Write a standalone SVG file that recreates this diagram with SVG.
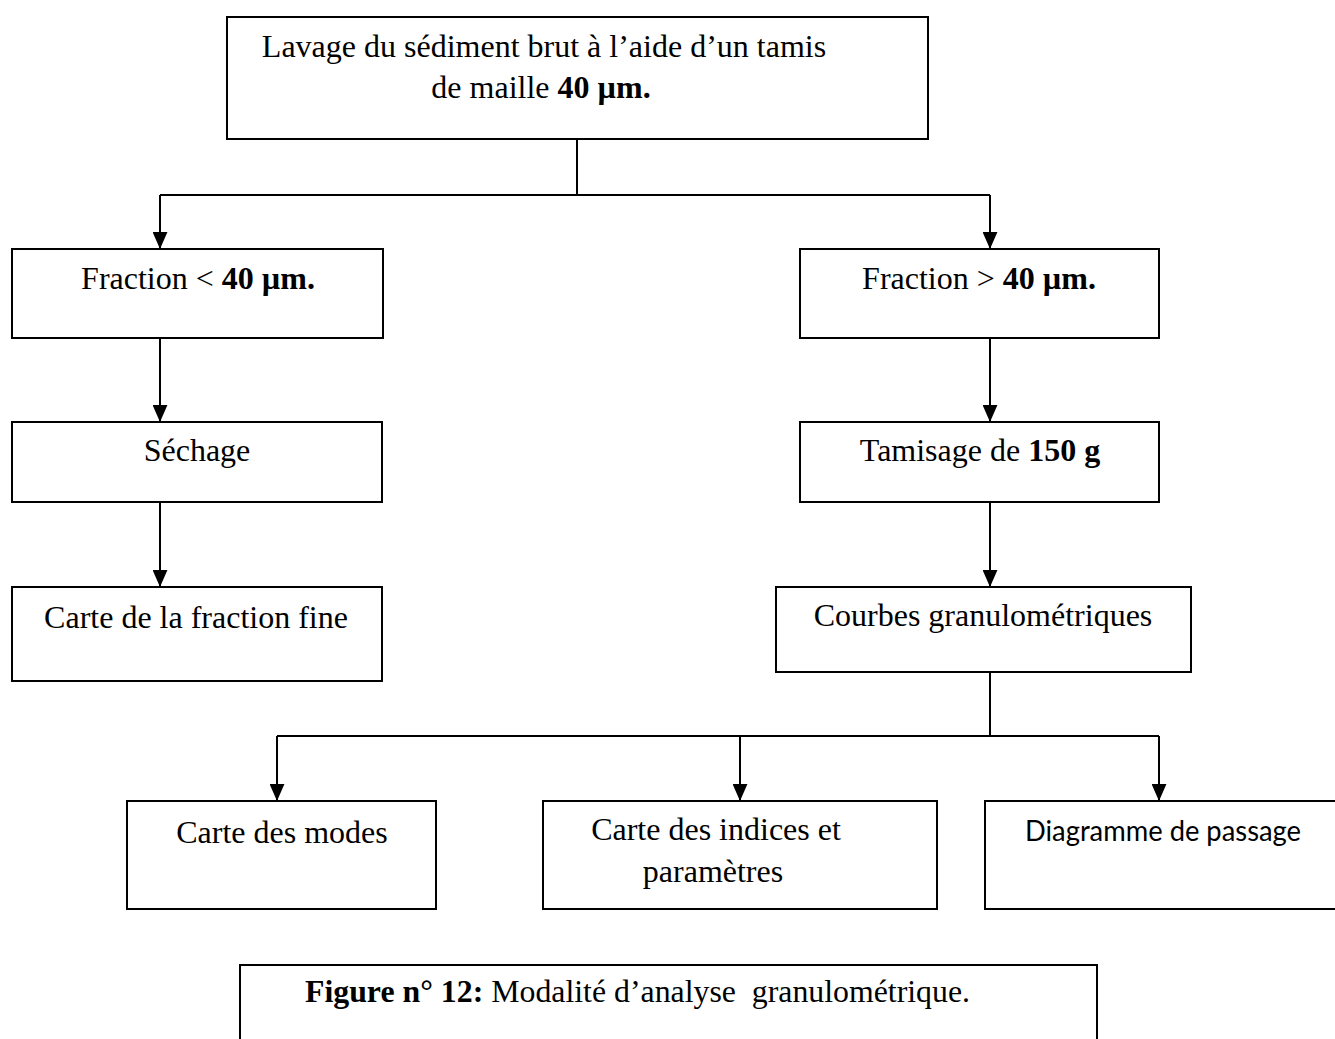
<svg xmlns="http://www.w3.org/2000/svg" width="1335" height="1039" viewBox="0 0 1335 1039">
<style>
.box{fill:#fff;stroke:#000;stroke-width:2}
.ln{fill:none;stroke:#000;stroke-width:2}
.t{font-family:"Liberation Serif","Times New Roman",serif;font-size:32px;fill:#000}
.c{font-family:Lato,"Open Sans","Liberation Sans",sans-serif;font-size:29px;fill:#000}
.b{font-weight:bold}
</style>
<defs>
<marker id="ah" viewBox="0 0 16 14" refX="16" refY="7" markerWidth="17" markerHeight="15" markerUnits="userSpaceOnUse" orient="auto">
<path d="M0,0 L16,7 L0,14 z" fill="#000"/>
</marker>
</defs>
<rect width="1335" height="1039" fill="#fff"/>
<g id="connectors">
<polyline class="ln" points="577,139 577,195"/>
<polyline class="ln" points="160,195 990,195"/>
<line class="ln" x1="160" y1="195" x2="160" y2="249" marker-end="url(#ah)"/>
<line class="ln" x1="990" y1="195" x2="990" y2="249" marker-end="url(#ah)"/>
<line class="ln" x1="160" y1="338" x2="160" y2="422" marker-end="url(#ah)"/>
<line class="ln" x1="160" y1="502" x2="160" y2="587" marker-end="url(#ah)"/>
<line class="ln" x1="990" y1="338" x2="990" y2="422" marker-end="url(#ah)"/>
<line class="ln" x1="990" y1="502" x2="990" y2="587" marker-end="url(#ah)"/>
<polyline class="ln" points="990,672 990,736"/>
<polyline class="ln" points="277,736 1159,736"/>
<line class="ln" x1="277" y1="736" x2="277" y2="801" marker-end="url(#ah)"/>
<line class="ln" x1="740" y1="736" x2="740" y2="801" marker-end="url(#ah)"/>
<line class="ln" x1="1159" y1="736" x2="1159" y2="801" marker-end="url(#ah)"/>
</g>
<g id="n_lavage">
<rect class="box" x="227" y="17" width="701" height="122"/>
<text class="t" x="544" y="57" text-anchor="middle">Lavage du sédiment brut à l’aide d’un tamis</text>
<text class="t" x="541" y="98" text-anchor="middle">de maille <tspan class="b">40 µm.</tspan></text>
</g>
<g id="n_frac_inf">
<rect class="box" x="12" y="249" width="371" height="89"/>
<text class="t" x="198" y="289" text-anchor="middle">Fraction &lt; <tspan class="b">40 µm.</tspan></text>
</g>
<g id="n_frac_sup">
<rect class="box" x="800" y="249" width="359" height="89"/>
<text class="t" x="979" y="289" text-anchor="middle">Fraction &gt; <tspan class="b">40 µm.</tspan></text>
</g>
<g id="n_sechage">
<rect class="box" x="12" y="422" width="370" height="80"/>
<text class="t" x="197" y="461" text-anchor="middle">Séchage</text>
</g>
<g id="n_tamisage">
<rect class="box" x="800" y="422" width="359" height="80"/>
<text class="t" x="980" y="461" text-anchor="middle">Tamisage de <tspan class="b">150 g</tspan></text>
</g>
<g id="n_carte_fine">
<rect class="box" x="12" y="587" width="370" height="94"/>
<text class="t" x="196" y="628" text-anchor="middle">Carte de la fraction fine</text>
</g>
<g id="n_courbes">
<rect class="box" x="776" y="587" width="415" height="85"/>
<text class="t" x="983" y="626" text-anchor="middle">Courbes granulométriques</text>
</g>
<g id="n_modes">
<rect class="box" x="127" y="801" width="309" height="108"/>
<text class="t" x="282" y="843" text-anchor="middle">Carte des modes</text>
</g>
<g id="n_indices">
<rect class="box" x="543" y="801" width="394" height="108"/>
<text class="t" x="716" y="840" text-anchor="middle">Carte des indices et</text>
<text class="t" x="713" y="882" text-anchor="middle">paramètres</text>
</g>
<g id="n_diagramme">
<rect class="box" x="985" y="801" width="360" height="108"/>
<text class="c" x="1025" y="841" textLength="276" lengthAdjust="spacingAndGlyphs">Diagramme de passage</text>
</g>
<g id="caption">
<rect class="box" x="240" y="965" width="857" height="100"/>
<text class="t" x="305" y="1002" textLength="665" lengthAdjust="spacingAndGlyphs" xml:space="preserve"><tspan class="b">Figure n° 12:</tspan> Modalité d’analyse  granulométrique.</text>
</g>
</svg>
